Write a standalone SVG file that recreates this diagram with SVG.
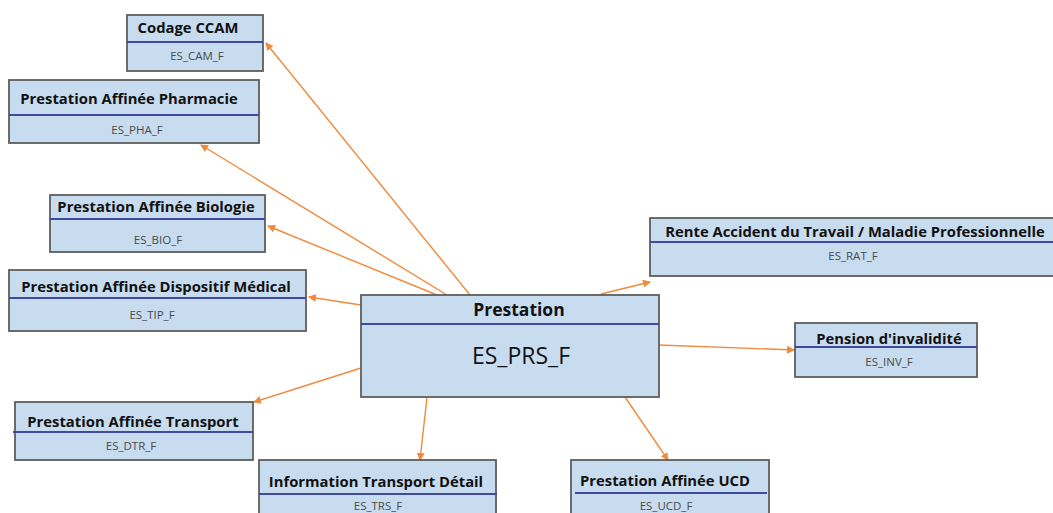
<svg xmlns="http://www.w3.org/2000/svg" width="1053" height="513" viewBox="0 0 1053 513">
<defs>
<style>
.box{fill:#c8dcf0;stroke:#5e5e5e;stroke-width:1.8}
.div{stroke:#4049a4;stroke-width:1.8}
.t{font-family:"Open Sans",Lato,sans-serif;font-weight:bold;font-size:14.8px;fill:#111;text-anchor:middle}
.s{font-family:"Open Sans",Lato,sans-serif;font-size:11.5px;fill:#4a4a4a;text-anchor:middle}
.c{stroke:#f08a3c;stroke-width:1.4;fill:none;marker-end:url(#ah)}
</style>
<marker id="ah" markerWidth="8" markerHeight="8" refX="7" refY="4" orient="auto" markerUnits="userSpaceOnUse">
<path d="M0,0 L8,4 L0,8 z" fill="#f08a3c"/>
</marker>
</defs>
<rect width="1053" height="513" fill="#fff"/>
<g id="connectors">
<line class="c" x1="470" y1="295" x2="266" y2="43"/>
<line class="c" x1="447" y1="295" x2="201" y2="145"/>
<line class="c" x1="437" y1="295" x2="268" y2="226"/>
<line class="c" x1="361" y1="305" x2="309" y2="297"/>
<line class="c" x1="361" y1="368" x2="254" y2="402"/>
<line class="c" x1="427" y1="397" x2="420" y2="460"/>
<line class="c" x1="625" y1="397" x2="668" y2="460"/>
<line class="c" x1="659" y1="345" x2="794" y2="350"/>
<line class="c" x1="601" y1="294" x2="650" y2="282"/>
</g>
<g id="cam">
<rect class="box" x="127" y="15" width="136" height="56"/>
<line class="div" x1="127" y1="42" x2="263" y2="42"/>
<text class="t" x="188" y="33">Codage CCAM</text>
<text class="s" x="197" y="60">ES_CAM_F</text>
</g>
<g id="pha">
<rect class="box" x="9" y="80" width="250" height="63"/>
<line class="div" x1="9" y1="115" x2="259" y2="115"/>
<text class="t" x="129" y="104">Prestation Affinée Pharmacie</text>
<text class="s" x="137" y="134">ES_PHA_F</text>
</g>
<g id="bio">
<rect class="box" x="50" y="195" width="215" height="57"/>
<line class="div" x1="50" y1="219" x2="265" y2="219"/>
<text class="t" x="156" y="212">Prestation Affinée Biologie</text>
<text class="s" x="158" y="244">ES_BIO_F</text>
</g>
<g id="tip">
<rect class="box" x="9" y="270" width="297" height="61"/>
<line class="div" x1="9" y1="298" x2="306" y2="298"/>
<text class="t" x="156" y="292">Prestation Affinée Dispositif Médical</text>
<text class="s" x="152" y="319">ES_TIP_F</text>
</g>
<g id="prs">
<rect class="box" x="361" y="295" width="298" height="102"/>
<line class="div" x1="361" y1="324" x2="659" y2="324"/>
<text class="t" x="519" y="316" style="font-size:17.5px">Prestation</text>
<text x="521" y="364" style="font-family:'Open Sans',Lato,sans-serif;font-size:23px;fill:#111;text-anchor:middle">ES_PRS_F</text>
</g>
<g id="rat">
<rect class="box" x="650" y="218" width="405" height="58"/>
<line class="div" x1="650" y1="242" x2="1053" y2="242"/>
<text class="t" x="855" y="237">Rente Accident du Travail / Maladie Professionnelle</text>
<text class="s" x="853" y="260">ES_RAT_F</text>
</g>
<g id="inv">
<rect class="box" x="795" y="323" width="182" height="54"/>
<line class="div" x1="795" y1="347" x2="977" y2="347"/>
<text class="t" x="889" y="344">Pension d'invalidité</text>
<text class="s" x="889" y="366">ES_INV_F</text>
</g>
<g id="dtr">
<rect class="box" x="15" y="402" width="238" height="58"/>
<line class="div" x1="13" y1="432" x2="253" y2="432"/>
<text class="t" x="133" y="427">Prestation Affinée Transport</text>
<text class="s" x="131" y="450">ES_DTR_F</text>
</g>
<g id="trs">
<rect class="box" x="259" y="460" width="237" height="60"/>
<line class="div" x1="259" y1="494" x2="497" y2="494"/>
<text class="t" x="376" y="487">Information Transport Détail</text>
<text class="s" x="378" y="510">ES_TRS_F</text>
</g>
<g id="ucd">
<rect class="box" x="571" y="460" width="198" height="60"/>
<line class="div" x1="575" y1="493" x2="767" y2="493"/>
<text class="t" x="665" y="486">Prestation Affinée UCD</text>
<text class="s" x="666" y="510">ES_UCD_F</text>
</g>
</svg>
